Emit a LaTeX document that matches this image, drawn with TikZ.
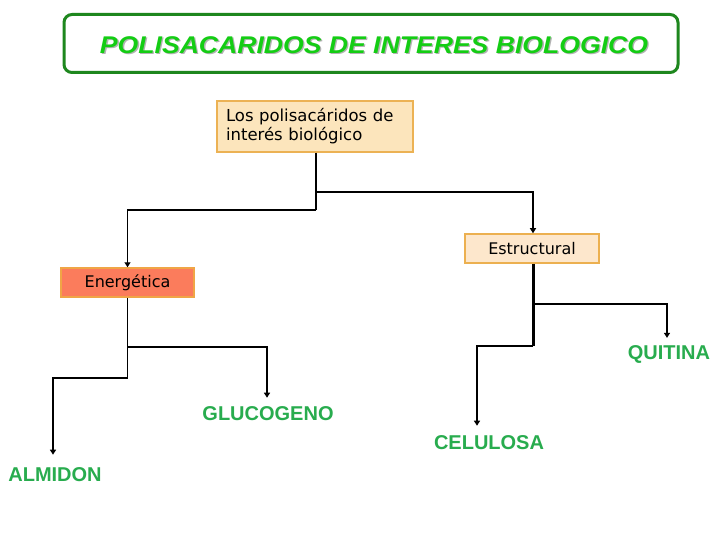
\documentclass[tikz,border=0pt]{standalone}
\usepackage{fontspec}
\setmainfont{DejaVu Sans}
\newfontfamily\lib{Liberation Sans}
\usetikzlibrary{arrows.meta}
\definecolor{titlegreen}{RGB}{20,205,20}
\definecolor{framegreen}{RGB}{30,135,30}
\definecolor{leafgreen}{RGB}{40,172,78}
\definecolor{rootfill}{RGB}{252,229,188}
\definecolor{rootdraw}{RGB}{236,178,84}
\definecolor{enerfill}{RGB}{251,124,92}
\definecolor{enerdraw}{RGB}{240,165,70}
\definecolor{estrfill}{RGB}{253,231,204}
\definecolor{estrdraw}{RGB}{236,176,80}
\tikzset{
  x=1pt, y=1pt,
  boxnode/.style={draw, line width=1.5pt, inner sep=0pt, font=\fontsize{16}{16}\selectfont},
  leaf/.style={text=leafgreen, inner xsep=0pt, font=\lib\bfseries\fontsize{20}{20}\selectfont},
  conn/.style={line width=1.3pt, black},
  arr/.style={conn, -{Triangle[length=5pt,width=6pt]}},
}
\begin{document}
\begin{tikzpicture}
\useasboundingbox (0,0) rectangle (720,-540);
\fill[white] (0,0) rectangle (720,-540);
% title
\node[draw=framegreen, line width=3pt, rounded corners=8pt, minimum width=614pt, minimum height=58pt, inner sep=0pt] (title) at (371,-43.5) {};
\node[text=black!30, font=\lib\bfseries\itshape\fontsize{23}{23}\selectfont] (titleshadow) at (375.3,-46.3) {\scalebox{1.156}[1.05]{POLISACARIDOS DE INTERES BIOLOGICO}};
\node[text=titlegreen, font=\lib\bfseries\itshape\fontsize{23}{23}\selectfont] (titletext) at (374,-45) {\scalebox{1.156}[1.05]{POLISACARIDOS DE INTERES BIOLOGICO}};
% boxes
\node[boxnode, draw=rootdraw, fill=rootfill, minimum width=196pt, minimum height=51pt, text width=178pt, align=left, font=\fontsize{16.5}{19}\selectfont] (root) at (315,-126.5) {Los polisacáridos de\\interés biológico};
\node[boxnode, draw=enerdraw, fill=enerfill, minimum width=133pt, minimum height=29pt] (ener) at (127.5,-282.5) {Energética};
\node[boxnode, draw=estrdraw, fill=estrfill, minimum width=134pt, minimum height=29pt] (estr) at (532,-248.5) {Estructural};
% leaves
\node[leaf, inner ysep=13pt] (alm) at (55,-475) {ALMIDON};
\node[leaf, inner ysep=9pt] (gluc) at (268,-414) {GLUCOGENO};
\node[leaf, inner ysep=10pt] (celu) at (489,-443) {CELULOSA};
\node[leaf, inner ysep=7pt] (quit) at (669,-354) {QUITINA};
% junctions
\coordinate (j1) at (316,-210);
\coordinate (j2) at (316,-192);
\coordinate (e1) at (127.5,-347);
\coordinate (e2) at (127.5,-378);
\coordinate (s1) at (533,-304);
\coordinate (s2) at (533,-346);
% connectors
\draw[conn, line width=2pt] (root.south -| j1) -- (j1);
\draw[arr] (j1) -| (ener.north);
\draw[arr, line width=2pt] (j2) -| ([xshift=1pt]estr.north);
\draw[conn] (ener.south) -- (e2);
\draw[arr] (e2) -| ([xshift=-2pt]alm.north);
\draw[arr, line width=2pt] (e1) -| ([xshift=-1pt]gluc.north);
\draw[conn, line width=3pt] ([xshift=1pt]estr.south) -- (s2);
\draw[arr] (s2) -| ([xshift=-12pt]celu.north);
\draw[arr] (s1) -| ([xshift=-2pt]quit.north);
\end{tikzpicture}
\end{document}
